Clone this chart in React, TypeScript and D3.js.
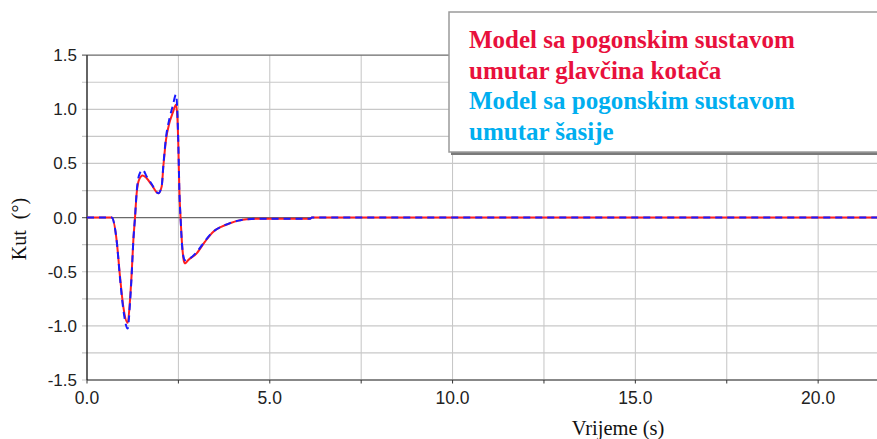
import React from "react";
import * as d3 from "d3";

const timeS = [0, 0.675, 0.81, 0.903, 0.994, 1.113, 1.176, 1.222, 1.268, 1.313, 1.359, 1.423, 1.523, 1.632, 1.769, 1.952, 2.043, 2.088, 2.161, 2.253, 2.344, 2.435, 2.471, 2.499, 2.526, 2.563, 2.599, 2.654, 2.681, 2.772, 3.0, 3.228, 3.456, 3.684, 3.912, 4.14, 4.368, 4.733, 6.1, 6.15, 21.61];
const hubMotor = [0, 0, -0.207, -0.546, -0.824, -0.972, -0.762, -0.515, -0.207, 0, 0.225, 0.349, 0.389, 0.364, 0.302, 0.225, 0.287, 0.472, 0.719, 0.873, 0.966, 1.043, 0.935, 0.657, 0.256, -0.022, -0.238, -0.407, -0.423, -0.392, -0.33, -0.222, -0.13, -0.083, -0.052, -0.028, -0.015, -0.01, -0.01, 0, 0];
const chassisMotor = [0, 0, -0.21, -0.56, -0.85, -1.025, -0.79, -0.53, -0.21, 0, 0.24, 0.39, 0.441, 0.38, 0.31, 0.225, 0.29, 0.48, 0.74, 0.91, 1.03, 1.136, 0.98, 0.68, 0.26, -0.03, -0.25, -0.38, -0.395, -0.385, -0.32, -0.215, -0.128, -0.082, -0.051, -0.028, -0.015, -0.01, -0.01, 0, 0];

const yTicks = [-1.5, -1.25, -1, -0.75, -0.5, -0.25, 0, 0.25, 0.5, 0.75, 1, 1.25, 1.5];
const xTicks = [0, 2.5, 5, 7.5, 10, 12.5, 15, 17.5, 20];
const legendLines = [
  { text: "Model sa pogonskim sustavom", color: "#e8103c" },
  { text: "umutar glavčina kotača", color: "#e8103c" },
  { text: "Model sa pogonskim sustavom", color: "#00aeef" },
  { text: "umutar šasije", color: "#00aeef" },
];

const W = 877;
const H = 439;
const left = 87;
const right = 877;
const top = 55.2;
const bottom = 380;
const SANS = "'Liberation Sans', Arial, sans-serif";
const SERIF = "'Liberation Serif', 'DejaVu Serif', serif";

export default function App() {
  const x = d3.scaleLinear().domain([0, 21.61]).range([left, right]);
  const y = d3.scaleLinear().domain([-1.5, 1.5]).range([bottom, top]);
  const pts = (vals: number[]) => timeS.map((t, i) => [t, vals[i]] as [number, number]);
  const line = d3
    .line<[number, number]>()
    .x((d) => x(d[0]))
    .y((d) => y(d[1]))
    .curve(d3.curveMonotoneX);

  return (
    <svg width={W} height={H} style={{ position: "absolute", left: 0, top: 0, background: "#fff" }}>
      {xTicks.filter((t) => t > 0).map((t) => (
        <line key={"vx" + t} x1={x(t)} x2={x(t)} y1={top} y2={bottom} stroke="#c4c4c4" strokeWidth={1} />
      ))}
      {yTicks.map((v) => (
        <line
          key={"hy" + v}
          x1={left - 5}
          x2={right}
          y1={y(v)}
          y2={y(v)}
          stroke={v === 0 || v === 1.5 ? "#6a6a6a" : "#c8c8c8"}
          strokeWidth={v === 0 || v === 1.5 ? 1.3 : 1.2}
        />
      ))}
      {yTicks.filter((v) => Math.abs((v * 2) % 1) < 1e-9).map((v) => (
        <text key={"yl" + v} x={77} y={y(v) + 6} textAnchor="end" style={{ fontFamily: SANS, fontSize: 17 }} fill="#222">
          {v.toFixed(1)}
        </text>
      ))}
      <line x1={left} x2={right} y1={bottom} y2={bottom} stroke="#6a6a6a" strokeWidth={1.6} />
      {xTicks.map((t) => (
        <line key={"xt" + t} x1={x(t)} x2={x(t)} y1={bottom} y2={bottom + 3.5} stroke="#333" strokeWidth={1} />
      ))}
      {xTicks.filter((t) => t % 5 === 0).map((t) => (
        <text key={"xl" + t} x={x(t)} y={403.5} textAnchor="middle" style={{ fontFamily: SANS, fontSize: 17.5 }} fill="#222">
          {t.toFixed(1)}
        </text>
      ))}
      <line x1={left} x2={left} y1={top} y2={bottom} stroke="#111" strokeWidth={1.3} />

      <path d={line(pts(hubMotor)) || ""} fill="none" stroke="#ff2020" strokeWidth={2} />
      <path d={line(pts(chassisMotor)) || ""} fill="none" stroke="#1a1aff" strokeWidth={2} strokeDasharray="7,5" />

      <text x={618} y={434.5} textAnchor="middle" style={{ fontFamily: SERIF, fontSize: 20.5 }} fill="#111">
        Vrijeme (s)
      </text>
      <text transform={`translate(26,229) rotate(-90)`} textAnchor="middle" style={{ fontFamily: SERIF, fontSize: 20 }} fill="#111">
        <tspan>Kut</tspan>
        <tspan dx={11}>(°)</tspan>
      </text>

      <rect x={451} y={14} width={440} height={141} fill="#7a7a7a" />
      <rect x={449} y={12} width={440} height={140} fill="#fff" stroke="#9a9a9a" strokeWidth={1.5} />
      {legendLines.map((l, i) => (
        <text
          key={"lg" + i}
          x={469}
          y={47.7 + i * 30.8}
          style={{ fontFamily: SERIF, fontSize: 25, fontWeight: "bold" }}
          fill={l.color}
        >
          {l.text}
        </text>
      ))}
    </svg>
  );
}
